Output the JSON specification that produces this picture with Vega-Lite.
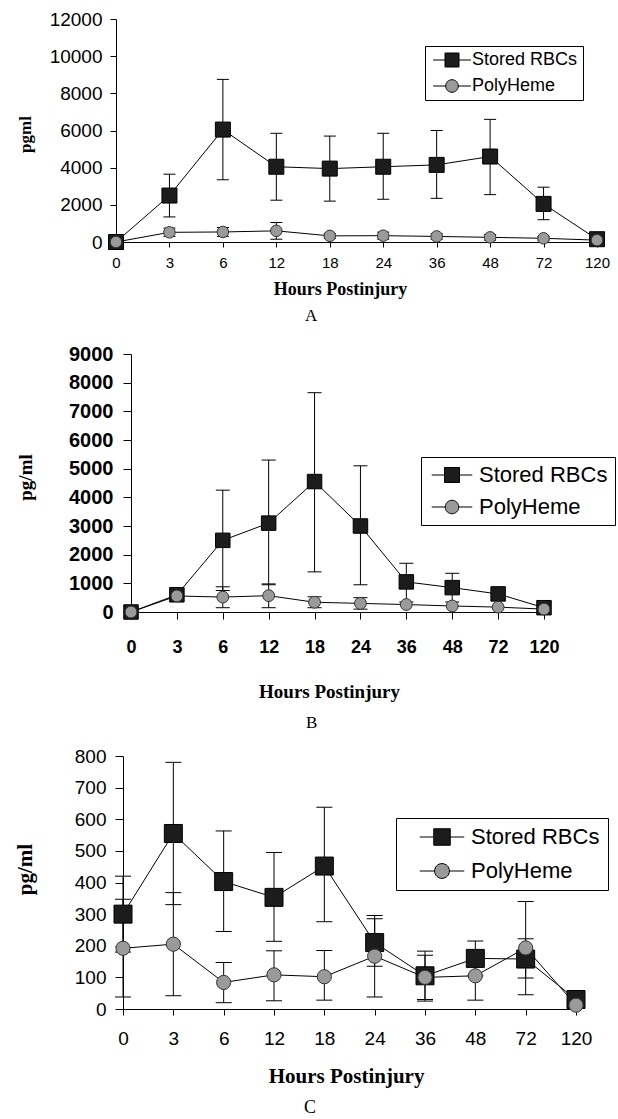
{
  "$schema": "https://vega.github.io/schema/vega-lite/v6.json",
  "background": "white",
  "padding": {"left": 14, "top": 10, "right": 5, "bottom": 5},
  "spacing": 20,
  "bounds": "flush",
  "data": {"values": [
    {"panel": "A", "hour": 0, "series": "Stored RBCs", "value": 0},
    {"panel": "A", "hour": 3, "series": "Stored RBCs", "value": 2500, "lo": 1350, "hi": 3650},
    {"panel": "A", "hour": 6, "series": "Stored RBCs", "value": 6050, "lo": 3350, "hi": 8750},
    {"panel": "A", "hour": 12, "series": "Stored RBCs", "value": 4050, "lo": 2250, "hi": 5850},
    {"panel": "A", "hour": 18, "series": "Stored RBCs", "value": 3950, "lo": 2200, "hi": 5700},
    {"panel": "A", "hour": 24, "series": "Stored RBCs", "value": 4050, "lo": 2300, "hi": 5850},
    {"panel": "A", "hour": 36, "series": "Stored RBCs", "value": 4150, "lo": 2350, "hi": 6000},
    {"panel": "A", "hour": 48, "series": "Stored RBCs", "value": 4600, "lo": 2550, "hi": 6600},
    {"panel": "A", "hour": 72, "series": "Stored RBCs", "value": 2050, "lo": 1200, "hi": 2950},
    {"panel": "A", "hour": 120, "series": "Stored RBCs", "value": 150},
    {"panel": "A", "hour": 0, "series": "PolyHeme", "value": 0},
    {"panel": "A", "hour": 3, "series": "PolyHeme", "value": 520, "lo": 300, "hi": 750},
    {"panel": "A", "hour": 6, "series": "PolyHeme", "value": 540, "lo": 300, "hi": 780},
    {"panel": "A", "hour": 12, "series": "PolyHeme", "value": 600, "lo": 150, "hi": 1050},
    {"panel": "A", "hour": 18, "series": "PolyHeme", "value": 330, "lo": 200, "hi": 460},
    {"panel": "A", "hour": 24, "series": "PolyHeme", "value": 340, "lo": 150, "hi": 530},
    {"panel": "A", "hour": 36, "series": "PolyHeme", "value": 300, "lo": 150, "hi": 450},
    {"panel": "A", "hour": 48, "series": "PolyHeme", "value": 250, "lo": 100, "hi": 400},
    {"panel": "A", "hour": 72, "series": "PolyHeme", "value": 200, "lo": 100, "hi": 300},
    {"panel": "A", "hour": 120, "series": "PolyHeme", "value": 100},
    {"panel": "B", "hour": 0, "series": "Stored RBCs", "value": 0},
    {"panel": "B", "hour": 3, "series": "Stored RBCs", "value": 600},
    {"panel": "B", "hour": 6, "series": "Stored RBCs", "value": 2500, "lo": 750, "hi": 4250},
    {"panel": "B", "hour": 12, "series": "Stored RBCs", "value": 3100, "lo": 950, "hi": 5300},
    {"panel": "B", "hour": 18, "series": "Stored RBCs", "value": 4550, "lo": 1400, "hi": 7650},
    {"panel": "B", "hour": 24, "series": "Stored RBCs", "value": 3000, "lo": 950, "hi": 5100},
    {"panel": "B", "hour": 36, "series": "Stored RBCs", "value": 1050, "lo": 350, "hi": 1700},
    {"panel": "B", "hour": 48, "series": "Stored RBCs", "value": 850, "lo": 350, "hi": 1350},
    {"panel": "B", "hour": 72, "series": "Stored RBCs", "value": 630, "lo": 400, "hi": 860},
    {"panel": "B", "hour": 120, "series": "Stored RBCs", "value": 150},
    {"panel": "B", "hour": 0, "series": "PolyHeme", "value": 0},
    {"panel": "B", "hour": 3, "series": "PolyHeme", "value": 560},
    {"panel": "B", "hour": 6, "series": "PolyHeme", "value": 520, "lo": 150, "hi": 880},
    {"panel": "B", "hour": 12, "series": "PolyHeme", "value": 570, "lo": 150, "hi": 980},
    {"panel": "B", "hour": 18, "series": "PolyHeme", "value": 340, "lo": 150, "hi": 530},
    {"panel": "B", "hour": 24, "series": "PolyHeme", "value": 300, "lo": 100, "hi": 500},
    {"panel": "B", "hour": 36, "series": "PolyHeme", "value": 260},
    {"panel": "B", "hour": 48, "series": "PolyHeme", "value": 210},
    {"panel": "B", "hour": 72, "series": "PolyHeme", "value": 170},
    {"panel": "B", "hour": 120, "series": "PolyHeme", "value": 100},
    {"panel": "C", "hour": 0, "series": "Stored RBCs", "value": 300, "lo": 180, "hi": 420},
    {"panel": "C", "hour": 3, "series": "Stored RBCs", "value": 555, "lo": 330, "hi": 780},
    {"panel": "C", "hour": 6, "series": "Stored RBCs", "value": 403, "lo": 245, "hi": 563},
    {"panel": "C", "hour": 12, "series": "Stored RBCs", "value": 353, "lo": 214, "hi": 495},
    {"panel": "C", "hour": 18, "series": "Stored RBCs", "value": 452, "lo": 276, "hi": 638},
    {"panel": "C", "hour": 24, "series": "Stored RBCs", "value": 210, "lo": 135, "hi": 285},
    {"panel": "C", "hour": 36, "series": "Stored RBCs", "value": 105, "lo": 25, "hi": 183},
    {"panel": "C", "hour": 48, "series": "Stored RBCs", "value": 160, "lo": 105, "hi": 215},
    {"panel": "C", "hour": 72, "series": "Stored RBCs", "value": 158, "lo": 98, "hi": 222},
    {"panel": "C", "hour": 120, "series": "Stored RBCs", "value": 30},
    {"panel": "C", "hour": 0, "series": "PolyHeme", "value": 192, "lo": 38, "hi": 347},
    {"panel": "C", "hour": 3, "series": "PolyHeme", "value": 205, "lo": 42, "hi": 368},
    {"panel": "C", "hour": 6, "series": "PolyHeme", "value": 84, "lo": 20, "hi": 147},
    {"panel": "C", "hour": 12, "series": "PolyHeme", "value": 108, "lo": 26, "hi": 184},
    {"panel": "C", "hour": 18, "series": "PolyHeme", "value": 102, "lo": 28, "hi": 185},
    {"panel": "C", "hour": 24, "series": "PolyHeme", "value": 167, "lo": 38, "hi": 296},
    {"panel": "C", "hour": 36, "series": "PolyHeme", "value": 100, "lo": 30, "hi": 170},
    {"panel": "C", "hour": 48, "series": "PolyHeme", "value": 105, "lo": 28, "hi": 182},
    {"panel": "C", "hour": 72, "series": "PolyHeme", "value": 193, "lo": 45, "hi": 340},
    {"panel": "C", "hour": 120, "series": "PolyHeme", "value": 12}
  ]},
  "resolve": {
    "scale": {"x": "independent", "y": "independent", "shape": "independent", "fill": "independent", "stroke": "independent"},
    "legend": {"shape": "independent", "fill": "independent", "stroke": "independent"}
  },
  "config": {
    "view": {"stroke": null},
    "axis": {"domainColor": "black", "tickColor": "black", "labelColor": "black", "titleColor": "black", "grid": false, "domainWidth": 1, "tickWidth": 1, "labelOverlap": false},
    "title": {"color": "black"}
  },
  "vconcat": [
    {
      "width": 481,
      "height": 223,
      "title": {"text": "A", "orient": "bottom", "anchor": "start", "frame": "group", "dx": 189, "offset": 10, "font": "Liberation Serif", "fontSize": 17, "fontWeight": "normal", "color": "black"},
      "transform": [{"filter": "datum.panel == 'A'"}],
      "layer": [
        {
          "transform": [{"filter": "isValid(datum.lo)"}],
          "mark": {"type": "rule", "color": "black", "strokeWidth": 1},
          "encoding": {
            "x": {"field": "hour", "type": "ordinal", "scale": {"type": "point", "padding": 0, "domain": [0, 3, 6, 12, 18, 24, 36, 48, 72, 120]},
              "axis": {"title": "Hours Postinjury", "labelAngle": 0, "labelOverlap": false, "labelFont": "Liberation Sans", "labelFontSize": 15, "labelPadding": 8, "tickSize": 5, "titleFont": "Liberation Serif", "titleFontSize": 18, "titleFontWeight": "bold", "titlePadding": 10, "titleX": 224}},
            "y": {"field": "lo", "type": "quantitative", "scale": {"domain": [0, 12000], "nice": false},
              "axis": {"title": "pgml", "values": [0, 2000, 4000, 6000, 8000, 10000, 12000], "tickCount": 30, "labelOverlap": false, "labelFlush": false, "format": "d", "labelFont": "Liberation Sans", "labelFontSize": 19, "labelPadding": 8, "tickSize": 6, "titleFont": "Liberation Serif", "titleFontSize": 17, "titleFontWeight": "bold", "titleX": -82, "titleY": 115}},
            "y2": {"field": "hi"}
          }
        },
        {
          "transform": [{"filter": "isValid(datum.lo)"}],
          "mark": {"type": "tick", "orient": "horizontal", "size": 12, "thickness": 1, "color": "black", "opacity": 1},
          "encoding": {"x": {"field": "hour", "type": "ordinal"}, "y": {"field": "lo", "type": "quantitative"}}
        },
        {
          "transform": [{"filter": "isValid(datum.hi)"}],
          "mark": {"type": "tick", "orient": "horizontal", "size": 12, "thickness": 1, "color": "black", "opacity": 1},
          "encoding": {"x": {"field": "hour", "type": "ordinal"}, "y": {"field": "hi", "type": "quantitative"}}
        },
        {
          "mark": {"type": "line", "color": "black", "strokeWidth": 1},
          "encoding": {"x": {"field": "hour", "type": "ordinal"}, "y": {"field": "value", "type": "quantitative"}, "detail": {"field": "series"}}
        },
        {
          "transform": [{"filter": "datum.series == 'Stored RBCs'"}],
          "mark": {"type": "point", "shape": "square", "filled": true, "fill": "#1c1c1c", "stroke": "black", "strokeWidth": 1, "size": 225, "opacity": 1},
          "encoding": {"x": {"field": "hour", "type": "ordinal"}, "y": {"field": "value", "type": "quantitative"}}
        },
        {
          "transform": [{"filter": "datum.series == 'PolyHeme'"}],
          "mark": {"type": "point", "shape": "circle", "filled": true, "fill": "#9a9a9a", "stroke": "#333333", "strokeWidth": 1, "size": 133, "opacity": 1},
          "encoding": {"x": {"field": "hour", "type": "ordinal"}, "y": {"field": "value", "type": "quantitative"}}
        },
        {
          "transform": [{"filter": "datum.series == 'none'"}],
          "mark": {"type": "point", "filled": true, "strokeWidth": 1, "opacity": 1},
          "encoding": {
            "shape": {"field": "series", "type": "nominal",
              "scale": {"domain": ["Stored RBCs", "PolyHeme"], "range": ["M-2.7,0H-1M1,0H2.7M-1,-1H1V1H-1Z", "M-2.7,0H-0.9M0.9,0H2.7M-0.9,0A0.9,0.9,0,1,0,0.9,0A0.9,0.9,0,1,0,-0.9,0Z"]},
              "legend": {"title": null, "orient": "none", "legendX": 309, "legendY": 27, "symbolSize": 196, "symbolOffset": 13, "labelOffset": 11, "labelFont": "Liberation Sans", "labelFontSize": 18, "labelColor": "black", "padding": 5, "rowPadding": 8, "strokeColor": "black", "fillColor": "white", "symbolStrokeWidth": 1, "labelLimit": 400, "cornerRadius": 0}},
            "fill": {"field": "series", "type": "nominal",
              "scale": {"domain": ["Stored RBCs", "PolyHeme"], "range": ["#1c1c1c", "#9a9a9a"]},
              "legend": {"title": null, "orient": "none", "legendX": 309, "legendY": 27, "symbolSize": 196, "symbolOffset": 13, "labelOffset": 11, "labelFont": "Liberation Sans", "labelFontSize": 18, "labelColor": "black", "padding": 5, "rowPadding": 8, "strokeColor": "black", "fillColor": "white", "symbolStrokeWidth": 1, "labelLimit": 400, "cornerRadius": 0}},
            "stroke": {"field": "series", "type": "nominal",
              "scale": {"domain": ["Stored RBCs", "PolyHeme"], "range": ["black", "black"]},
              "legend": {"title": null, "orient": "none", "legendX": 309, "legendY": 27, "symbolSize": 196, "symbolOffset": 13, "labelOffset": 11, "labelFont": "Liberation Sans", "labelFontSize": 18, "labelColor": "black", "padding": 5, "rowPadding": 8, "strokeColor": "black", "fillColor": "white", "symbolStrokeWidth": 1, "labelLimit": 400, "cornerRadius": 0}}
          }
        }
      ]
    },
    {
      "width": 428,
      "height": 350,
      "title": {"text": "B", "orient": "bottom", "anchor": "start", "frame": "group", "dx": 190, "offset": 14, "font": "Liberation Serif", "fontSize": 17, "fontWeight": "normal", "color": "black"},
      "transform": [{"filter": "datum.panel == 'B'"}],
      "layer": [
        {
          "transform": [{"filter": "isValid(datum.lo)"}],
          "mark": {"type": "rule", "color": "black", "strokeWidth": 1},
          "encoding": {
            "x": {"field": "hour", "type": "ordinal", "scale": {"type": "point", "padding": 0, "domain": [0, 3, 6, 12, 18, 24, 36, 48, 72, 120], "range": [15, 428]},
              "axis": {"title": "Hours Postinjury", "labelAngle": 0, "labelOverlap": false, "labelFont": "Liberation Sans", "labelFontSize": 18, "labelFontWeight": "bold", "labelPadding": 19, "tickSize": 7, "titleFont": "Liberation Serif", "titleFontSize": 19, "titleFontWeight": "bold", "titlePadding": 26, "titleX": 213}},
            "y": {"field": "lo", "type": "quantitative", "scale": {"domain": [0, 9000], "nice": false, "range": [350, 92]},
              "axis": {"title": "pg/ml", "offset": -15, "values": [0, 1000, 2000, 3000, 4000, 5000, 6000, 7000, 8000, 9000], "tickCount": 30, "labelOverlap": false, "labelFlush": false, "format": "d", "labelFont": "Liberation Sans", "labelFontSize": 20, "labelFontWeight": "bold", "labelPadding": 10, "tickSize": 8, "titleFont": "Liberation Serif", "titleFontSize": 19, "titleFontWeight": "bold", "titleX": -96, "titleY": 215}},
            "y2": {"field": "hi"}
          }
        },
        {
          "transform": [{"filter": "isValid(datum.lo)"}],
          "mark": {"type": "tick", "orient": "horizontal", "size": 14, "thickness": 1, "color": "black", "opacity": 1},
          "encoding": {"x": {"field": "hour", "type": "ordinal"}, "y": {"field": "lo", "type": "quantitative"}}
        },
        {
          "transform": [{"filter": "isValid(datum.hi)"}],
          "mark": {"type": "tick", "orient": "horizontal", "size": 14, "thickness": 1, "color": "black", "opacity": 1},
          "encoding": {"x": {"field": "hour", "type": "ordinal"}, "y": {"field": "hi", "type": "quantitative"}}
        },
        {
          "mark": {"type": "line", "color": "black", "strokeWidth": 1},
          "encoding": {"x": {"field": "hour", "type": "ordinal"}, "y": {"field": "value", "type": "quantitative"}, "detail": {"field": "series"}}
        },
        {
          "transform": [{"filter": "datum.series == 'Stored RBCs'"}],
          "mark": {"type": "point", "shape": "square", "filled": true, "fill": "#1c1c1c", "stroke": "black", "strokeWidth": 1, "size": 210, "opacity": 1},
          "encoding": {"x": {"field": "hour", "type": "ordinal"}, "y": {"field": "value", "type": "quantitative"}}
        },
        {
          "transform": [{"filter": "datum.series == 'PolyHeme'"}],
          "mark": {"type": "point", "shape": "circle", "filled": true, "fill": "#9a9a9a", "stroke": "#333333", "strokeWidth": 1, "size": 140, "opacity": 1},
          "encoding": {"x": {"field": "hour", "type": "ordinal"}, "y": {"field": "value", "type": "quantitative"}}
        },
        {
          "transform": [{"filter": "datum.series == 'none'"}],
          "mark": {"type": "point", "filled": true, "strokeWidth": 1, "opacity": 1},
          "encoding": {
            "shape": {"field": "series", "type": "nominal",
              "scale": {"domain": ["Stored RBCs", "PolyHeme"], "range": ["M-2.7,0H-1M1,0H2.7M-1,-1H1V1H-1Z", "M-2.7,0H-0.9M0.9,0H2.7M-0.9,0A0.9,0.9,0,1,0,0.9,0A0.9,0.9,0,1,0,-0.9,0Z"]},
              "legend": {"title": null, "orient": "none", "legendX": 305, "legendY": 195, "symbolSize": 225, "symbolOffset": 13, "labelOffset": 16, "labelFont": "Liberation Sans", "labelFontSize": 22, "labelColor": "black", "padding": 7, "rowPadding": 10, "strokeColor": "black", "fillColor": "white", "symbolStrokeWidth": 1, "labelLimit": 400, "cornerRadius": 0}},
            "fill": {"field": "series", "type": "nominal",
              "scale": {"domain": ["Stored RBCs", "PolyHeme"], "range": ["#1c1c1c", "#9a9a9a"]},
              "legend": {"title": null, "orient": "none", "legendX": 305, "legendY": 195, "symbolSize": 225, "symbolOffset": 13, "labelOffset": 16, "labelFont": "Liberation Sans", "labelFontSize": 22, "labelColor": "black", "padding": 7, "rowPadding": 10, "strokeColor": "black", "fillColor": "white", "symbolStrokeWidth": 1, "labelLimit": 400, "cornerRadius": 0}},
            "stroke": {"field": "series", "type": "nominal",
              "scale": {"domain": ["Stored RBCs", "PolyHeme"], "range": ["black", "black"]},
              "legend": {"title": null, "orient": "none", "legendX": 305, "legendY": 195, "symbolSize": 225, "symbolOffset": 13, "labelOffset": 16, "labelFont": "Liberation Sans", "labelFontSize": 22, "labelColor": "black", "padding": 7, "rowPadding": 10, "strokeColor": "black", "fillColor": "white", "symbolStrokeWidth": 1, "labelLimit": 400, "cornerRadius": 0}}
          }
        }
      ]
    },
    {
      "width": 460,
      "height": 377,
      "title": {"text": "C", "orient": "bottom", "anchor": "start", "frame": "group", "dx": 188, "offset": 13, "font": "Liberation Serif", "fontSize": 18, "fontWeight": "normal", "color": "black"},
      "transform": [{"filter": "datum.panel == 'C'"}],
      "layer": [
        {
          "transform": [{"filter": "isValid(datum.lo)"}],
          "mark": {"type": "rule", "color": "black", "strokeWidth": 1},
          "encoding": {
            "x": {"field": "hour", "type": "ordinal", "scale": {"type": "point", "padding": 0, "domain": [0, 3, 6, 12, 18, 24, 36, 48, 72, 120], "range": [7, 460]},
              "axis": {"title": "Hours Postinjury", "labelAngle": 0, "labelOverlap": false, "labelFont": "Liberation Sans", "labelFontSize": 19, "labelPadding": 14, "tickSize": 6, "titleFont": "Liberation Serif", "titleFontSize": 21, "titleFontWeight": "bold", "titlePadding": 17, "titleX": 230}},
            "y": {"field": "lo", "type": "quantitative", "scale": {"domain": [0, 800], "nice": false, "range": [377, 124]},
              "axis": {"title": "pg/ml", "offset": -7, "values": [0, 100, 200, 300, 400, 500, 600, 700, 800], "tickCount": 30, "labelOverlap": false, "labelFlush": false, "format": "d", "labelFont": "Liberation Sans", "labelFontSize": 19, "labelPadding": 9, "tickSize": 8, "titleFont": "Liberation Serif", "titleFontSize": 21, "titleFontWeight": "bold", "titleX": -88, "titleY": 237}},
            "y2": {"field": "hi"}
          }
        },
        {
          "transform": [{"filter": "isValid(datum.lo)"}],
          "mark": {"type": "tick", "orient": "horizontal", "size": 16, "thickness": 1, "color": "black", "opacity": 1},
          "encoding": {"x": {"field": "hour", "type": "ordinal"}, "y": {"field": "lo", "type": "quantitative"}}
        },
        {
          "transform": [{"filter": "isValid(datum.hi)"}],
          "mark": {"type": "tick", "orient": "horizontal", "size": 16, "thickness": 1, "color": "black", "opacity": 1},
          "encoding": {"x": {"field": "hour", "type": "ordinal"}, "y": {"field": "hi", "type": "quantitative"}}
        },
        {
          "mark": {"type": "line", "color": "black", "strokeWidth": 1},
          "encoding": {"x": {"field": "hour", "type": "ordinal"}, "y": {"field": "value", "type": "quantitative"}, "detail": {"field": "series"}}
        },
        {
          "transform": [{"filter": "datum.series == 'Stored RBCs'"}],
          "mark": {"type": "point", "shape": "square", "filled": true, "fill": "#1c1c1c", "stroke": "black", "strokeWidth": 1, "size": 324, "opacity": 1},
          "encoding": {"x": {"field": "hour", "type": "ordinal"}, "y": {"field": "value", "type": "quantitative"}}
        },
        {
          "transform": [{"filter": "datum.series == 'PolyHeme'"}],
          "mark": {"type": "point", "shape": "circle", "filled": true, "fill": "#9a9a9a", "stroke": "#333333", "strokeWidth": 1, "size": 201, "opacity": 1},
          "encoding": {"x": {"field": "hour", "type": "ordinal"}, "y": {"field": "value", "type": "quantitative"}}
        },
        {
          "transform": [{"filter": "datum.series == 'none'"}],
          "mark": {"type": "point", "filled": true, "strokeWidth": 1, "opacity": 1},
          "encoding": {
            "shape": {"field": "series", "type": "nominal",
              "scale": {"domain": ["Stored RBCs", "PolyHeme"], "range": ["M-2.7,0H-1M1,0H2.7M-1,-1H1V1H-1Z", "M-2.7,0H-0.9M0.9,0H2.7M-0.9,0A0.9,0.9,0,1,0,0.9,0A0.9,0.9,0,1,0,-0.9,0Z"]},
              "legend": {"title": null, "orient": "none", "legendX": 280, "legendY": 186, "symbolSize": 272, "symbolOffset": 27, "labelOffset": 18, "labelFont": "Liberation Sans", "labelFontSize": 22, "labelColor": "black", "padding": 8, "rowPadding": 12, "strokeColor": "black", "fillColor": "white", "symbolStrokeWidth": 1, "labelLimit": 400, "cornerRadius": 0}},
            "fill": {"field": "series", "type": "nominal",
              "scale": {"domain": ["Stored RBCs", "PolyHeme"], "range": ["#1c1c1c", "#9a9a9a"]},
              "legend": {"title": null, "orient": "none", "legendX": 280, "legendY": 186, "symbolSize": 272, "symbolOffset": 27, "labelOffset": 18, "labelFont": "Liberation Sans", "labelFontSize": 22, "labelColor": "black", "padding": 8, "rowPadding": 12, "strokeColor": "black", "fillColor": "white", "symbolStrokeWidth": 1, "labelLimit": 400, "cornerRadius": 0}},
            "stroke": {"field": "series", "type": "nominal",
              "scale": {"domain": ["Stored RBCs", "PolyHeme"], "range": ["black", "black"]},
              "legend": {"title": null, "orient": "none", "legendX": 280, "legendY": 186, "symbolSize": 272, "symbolOffset": 27, "labelOffset": 18, "labelFont": "Liberation Sans", "labelFontSize": 22, "labelColor": "black", "padding": 8, "rowPadding": 12, "strokeColor": "black", "fillColor": "white", "symbolStrokeWidth": 1, "labelLimit": 400, "cornerRadius": 0}}
          }
        }
      ]
    }
  ]
}
